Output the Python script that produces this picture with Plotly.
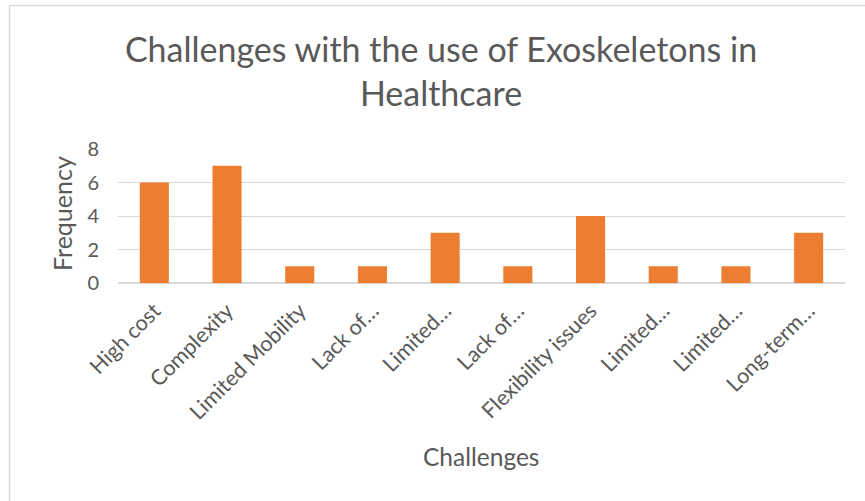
import plotly.graph_objects as go

categories = ["High cost", "Complexity", "Limited Mobility", "Lack of…", "Limited…",
              "Lack of…", "Flexibility issues", "Limited…", "Limited…", "Long-term…"]
frequency = [6, 7, 1, 1, 3, 1, 4, 1, 1, 3]
y_ticks = [0, 2, 4, 6, 8]

x_idx = list(range(len(categories)))

FONT = "Lato"
TXT = "#595959"

fig = go.Figure()
fig.add_trace(go.Bar(x=x_idx, y=frequency, marker=dict(color="#ED7D31", line=dict(width=0)),
                     hoverinfo="y"))

W, H = 865, 501
L, R, T, B = 118, 20, 149, 218
pw, ph = W - L - R, H - T - B

def px_x(px):
    return (px - L) / pw

def px_y(py):
    return (H - B - py) / ph

fig.update_layout(
    width=W, height=H,
    margin=dict(l=L, r=R, t=T, b=B),
    paper_bgcolor="white", plot_bgcolor="white",
    bargap=0.6,
    showlegend=False,
    title=dict(text="Challenges with the use of Exoskeletons in<br>Healthcare",
               x=441 / W, xanchor="center", y=1 - 62 / H, yanchor="top",
               font=dict(family=FONT, size=34, color=TXT)),
    xaxis=dict(tickmode="array", tickvals=x_idx, ticktext=categories, tickangle=-45,
               range=[-0.5, len(categories) - 0.5],
               tickfont=dict(family=FONT, size=21.5, color=TXT),
               showgrid=False, showline=False, zeroline=False, ticks="",
               ticklabelstandoff=10, automargin=False),
    yaxis=dict(range=[0, 8], tickvals=y_ticks, showgrid=True, gridcolor="#D9D9D9", gridwidth=1,
               zeroline=True, zerolinecolor="#D9D9D9", zerolinewidth=1.5,
               tickfont=dict(family=FONT, size=20, color=TXT), ticks="", ticklabelstandoff=18,
               automargin=False),
    annotations=[
        dict(text="Frequency", textangle=-90, xref="paper", yref="paper",
             x=px_x(62), y=px_y(214), xanchor="center", yanchor="middle", showarrow=False,
             font=dict(family=FONT, size=25, color=TXT)),
        dict(text="Challenges", xref="paper", yref="paper",
             x=px_x(481), y=px_y(456), xanchor="center", yanchor="middle", showarrow=False,
             font=dict(family=FONT, size=24.5, color=TXT)),
    ],
    shapes=[
        dict(type="line", xref="paper", yref="paper", x0=px_x(9.5), x1=px_x(866),
             y0=px_y(5.5), y1=px_y(5.5), line=dict(color="#D9D9D9", width=1.5)),
        dict(type="line", xref="paper", yref="paper", x0=px_x(9.5), x1=px_x(9.5),
             y0=px_y(5.5), y1=px_y(502), line=dict(color="#D9D9D9", width=1.5)),
    ],
)

fig.write_html("out.html", config={"displayModeBar": False},
               post_script="document.body.style.margin='0';")
